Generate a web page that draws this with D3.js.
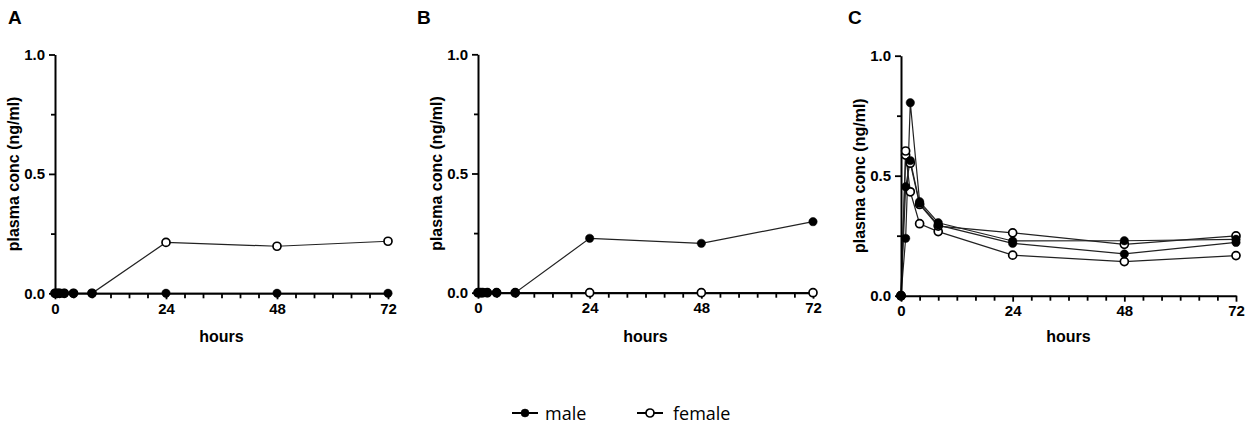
<!DOCTYPE html>
<html>
<head>
<meta charset="utf-8">
<script src="https://cdn.jsdelivr.net/npm/d3@7"></script>
<style>
  body { margin: 0; background: #fff; }
  svg { display: block; }
  .tick text { font-family: "Liberation Sans", Arial, sans-serif; font-weight: bold; font-size: 15px; fill: #000; }
</style>
</head>
<body>
<script>
// datos
const hoursAB = [0, 0.5, 1, 2, 4, 8, 24, 48, 72];
const maleA   = [0, 0, 0, 0, 0, 0, 0, 0, 0];
const femaleA = [0, 0, 0, 0, 0, 0, 0.213, 0.197, 0.218];
const maleB   = [0, 0, 0, 0, 0, 0, 0.228, 0.207, 0.298];
const femaleB = [0, 0, 0, 0, 0, 0, 0, 0, 0];

const hoursC   = [0, 1, 2, 4, 8, 24, 48, 72];
const maleC1   = [0, 0.239, 0.804, 0.392, 0.304, 0.228, 0.229, 0.235];
const maleC2   = [0, 0.454, 0.563, 0.385, 0.294, 0.218, 0.174, 0.222];
const femaleC1 = [0, 0.603, 0.552, 0.380, 0.290, 0.262, 0.214, 0.249];
const femaleC2 = [0, 0.586, 0.433, 0.300, 0.267, 0.169, 0.142, 0.167];

const xMajor = [0, 24, 48, 72];
const xMinor = d3.range(0, 73, 4);
const yMajor = [0, 0.5, 1.0];
const yMinor = [0.25, 0.75];

const legendItems = ["male", "female"];

const width = 1248, height = 424;
const font = '"Liberation Sans", Arial, sans-serif';

const svg = d3.select("body").append("svg")
  .attr("width", width)
  .attr("height", height);

// cada panel: posicion de los ejes y series (hembras primero, machos encima)
const panels = [
  { label: "A", x0: 55, x1: 388, yTop: 54.5, yBot: 293.3, lx: 8,
    series: [ {h: hoursAB, v: femaleA, filled: false}, {h: hoursAB, v: maleA, filled: true} ] },
  { label: "B", x0: 478, x1: 813, yTop: 54.3, yBot: 292.7, lx: 417,
    series: [ {h: hoursAB, v: femaleB, filled: false}, {h: hoursAB, v: maleB, filled: true} ] },
  { label: "C", x0: 901, x1: 1236, yTop: 55.7, yBot: 295.7, lx: 848,
    series: [ {h: hoursC, v: femaleC2, filled: false}, {h: hoursC, v: femaleC1, filled: false},
              {h: hoursC, v: maleC2, filled: true}, {h: hoursC, v: maleC1, filled: true} ] }
];

function dibujarPanel(p) {
  const x = d3.scaleLinear().domain([0, 72]).range([p.x0, p.x1]);
  const y = d3.scaleLinear().domain([0, 1]).range([p.yBot, p.yTop]);
  const g = svg.append("g");

  // letra del panel
  g.append("text")
    .attr("x", p.lx).attr("y", 24)
    .style("font-family", font).style("font-weight", "bold").style("font-size", "19px")
    .text(p.label);

  // lineas
  const line = d3.line().x(d => x(d[0])).y(d => y(d[1]));
  p.series.forEach(s => {
    const pts = s.h.map((h, i) => [h, s.v[i]]);
    g.append("path")
      .attr("d", line(pts))
      .attr("fill", "none")
      .attr("stroke", "#222")
      .attr("stroke-width", 1.2);
  });

  // ejes
  g.append("g")
    .attr("transform", "translate(0," + p.yBot + ")")
    .call(d3.axisBottom(x).tickValues(xMajor).tickFormat(d3.format("d")).tickSize(6).tickSizeOuter(0).tickPadding(4));
  g.append("g")
    .attr("transform", "translate(0," + p.yBot + ")")
    .call(d3.axisBottom(x).tickValues(xMinor.filter(v => xMajor.indexOf(v) < 0)).tickFormat("").tickSize(5).tickSizeOuter(0))
    .select(".domain").remove();
  g.append("g")
    .attr("transform", "translate(" + p.x0 + ",0)")
    .call(d3.axisLeft(y).tickValues(yMajor).tickFormat(d3.format(".1f")).tickSize(6).tickSizeOuter(0).tickPadding(4));
  g.append("g")
    .attr("transform", "translate(" + p.x0 + ",0)")
    .call(d3.axisLeft(y).tickValues(yMinor).tickFormat("").tickSize(4).tickSizeOuter(0))
    .select(".domain").remove();

  g.selectAll(".domain").attr("stroke", "#000").attr("stroke-width", 2);
  g.selectAll(".tick line").attr("stroke", "#000").attr("stroke-width", 1.8);

  // puntos por encima de los ejes
  p.series.forEach(s => {
    g.append("g").selectAll("circle")
      .data(s.h.map((h, i) => [h, s.v[i]]))
      .enter().append("circle")
      .attr("cx", d => x(d[0]))
      .attr("cy", d => y(d[1]))
      .attr("r", s.filled ? 4.2 : 4)
      .attr("fill", s.filled ? "#000" : "#fff")
      .attr("stroke", "#000")
      .attr("stroke-width", s.filled ? 0.5 : 1.7);
  });

  // titulos de ejes
  g.append("text")
    .attr("x", (p.x0 + p.x1) / 2).attr("y", 342)
    .attr("text-anchor", "middle")
    .style("font-family", font).style("font-weight", "bold").style("font-size", "16px")
    .text("hours");
  g.append("text")
    .attr("transform", "translate(" + (p.x0 - 36) + "," + ((p.yTop + p.yBot) / 2) + ") rotate(-90)")
    .attr("text-anchor", "middle")
    .style("font-family", font).style("font-weight", "bold").style("font-size", "16px")
    .text("plasma conc (ng/ml)");
}

panels.forEach(dibujarPanel);

// leyenda
const leg = svg.append("g");
const legX = [512, 637];
legendItems.forEach((name, i) => {
  const lg = leg.append("g").attr("transform", "translate(" + legX[i] + ",413)");
  lg.append("line").attr("x1", 0).attr("x2", 26).attr("y1", 0).attr("y2", 0)
    .attr("stroke", "#000").attr("stroke-width", 2);
  lg.append("circle").attr("cx", 13).attr("cy", 0).attr("r", 4)
    .attr("fill", i === 0 ? "#000" : "#fff")
    .attr("stroke", "#000").attr("stroke-width", i === 0 ? 0.5 : 1.7);
  lg.append("text").attr("x", i === 0 ? 33 : 36).attr("y", 6.5)
    .style("font-family", '"Open Sans", "Noto Sans", sans-serif').style("font-size", "18px")
    .text(name);
});
</script>
</body>
</html>
